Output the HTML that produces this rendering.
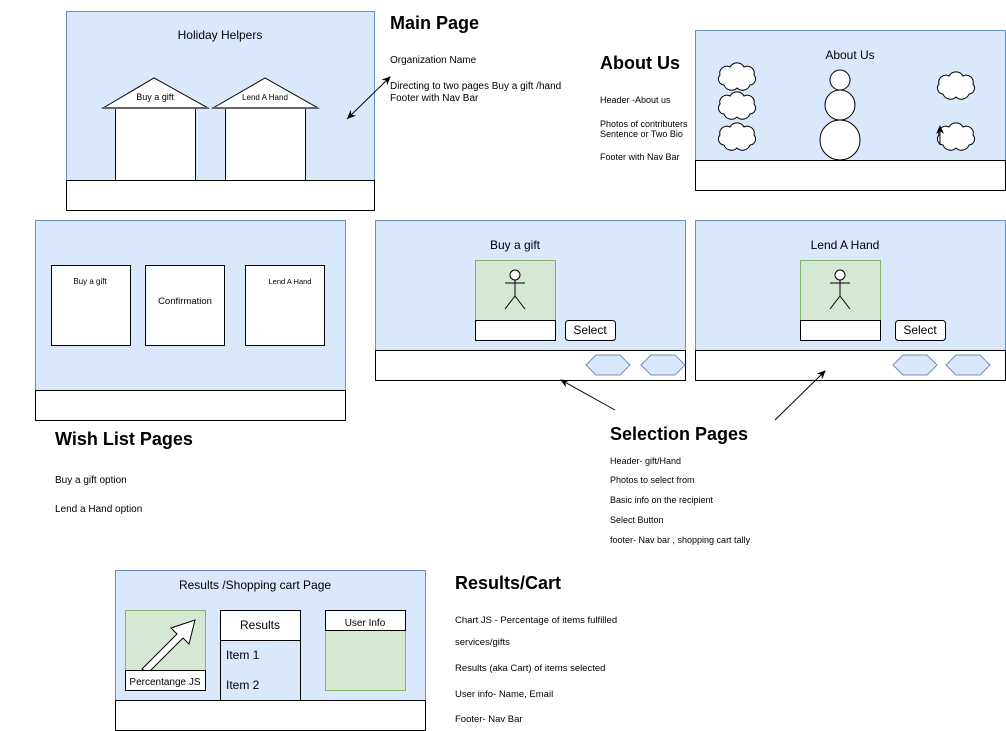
<!DOCTYPE html>
<html><head><meta charset="utf-8"><style>
html,body{margin:0;padding:0;background:#fff;}
svg{display:block;font-family:"Liberation Sans",Arial,sans-serif;}
</style></head><body>
<svg width="1006" height="731" viewBox="0 0 1006 731" xmlns="http://www.w3.org/2000/svg">
<defs>
<marker id="ah" markerWidth="10" markerHeight="10" refX="8" refY="5" orient="auto" markerUnits="userSpaceOnUse"><path d="M0,1 L9,5 L0,9 L3,5 z" fill="#000"/></marker>
<marker id="ahs" markerWidth="10" markerHeight="10" refX="1" refY="5" orient="auto" markerUnits="userSpaceOnUse"><path d="M10,1 L1,5 L10,9 L7,5 z" fill="#000"/></marker>
<g id="cloud"><path d="M-12,8 a6,6 0 0 1 -4,-10 a7,7 0 0 1 10,-8 a8,8 0 0 1 14,0 a7,7 0 0 1 10,8 a6,6 0 0 1 -4,10 a8,8 0 0 1 -13,3 a8,8 0 0 1 -13,-3 z" fill="#fff" stroke="#000" stroke-width="1"/></g>
<g id="stick" stroke="#000" stroke-width="1" fill="none"><circle cx="0" cy="-17" r="5" fill="#fff"/><line x1="0" y1="-12" x2="0" y2="4"/><line x1="-10" y1="-9" x2="10" y2="-9"/><line x1="0" y1="4" x2="-10" y2="17"/><line x1="0" y1="4" x2="10" y2="17"/></g>
<g id="hex"><polygon points="-22,0 -12,-10 12,-10 22,0 12,10 -12,10" fill="#dae8fc" stroke="#6c8ebf"/></g>
</defs>

<!-- Main page -->
<rect x="66.5" y="11.5" width="308" height="169" fill="#dae8fc" stroke="#6c8ebf"/>
<rect x="66.5" y="180.5" width="308" height="30" fill="#fff" stroke="#000"/>
<text x="220" y="39" font-size="12" text-anchor="middle">Holiday Helpers</text>
<rect x="115.5" y="108.5" width="80" height="72" fill="#fff" stroke="#000"/>
<polygon points="103,108 154,78 208,108" fill="#fff" stroke="#000"/>
<line x1="102" y1="108" x2="208" y2="108" stroke="#666" stroke-width="2"/>
<text x="155" y="100" font-size="9" text-anchor="middle">Buy a gift</text>
<rect x="225.5" y="108.5" width="80" height="72" fill="#fff" stroke="#000"/>
<polygon points="213,108 265,78 318,108" fill="#fff" stroke="#000"/>
<line x1="212" y1="108" x2="318" y2="108" stroke="#666" stroke-width="2"/>
<text x="265" y="100" font-size="8" text-anchor="middle">Lend A Hand</text>
<line x1="347" y1="119" x2="390" y2="77" stroke="#000" marker-end="url(#ah)" marker-start="url(#ahs)"/>

<text x="390" y="29" font-size="18" font-weight="bold">Main Page</text>
<text x="390" y="63" font-size="10">Organization Name</text>
<text x="390" y="89" font-size="10">Directing to two pages Buy a gift /hand</text>
<text x="390" y="101" font-size="10">Footer with Nav Bar</text>

<!-- About -->
<text x="600" y="69" font-size="18" font-weight="bold">About Us</text>
<text x="600" y="103" font-size="9">Header -About us</text>
<text x="600" y="127" font-size="9">Photos of contributers</text>
<text x="600" y="137" font-size="9">Sentence or Two Bio</text>
<text x="600" y="160" font-size="9">Footer with Nav Bar</text>
<rect x="695.5" y="30.5" width="310" height="130" fill="#dae8fc" stroke="#6c8ebf"/>
<rect x="695.5" y="160.5" width="310" height="30" fill="#fff" stroke="#000"/>
<text x="850" y="59" font-size="12" text-anchor="middle">About Us</text>
<use href="#cloud" x="736" y="77"/>
<use href="#cloud" x="736" y="106"/>
<use href="#cloud" x="736" y="137"/>
<use href="#cloud" x="955" y="86"/>
<use href="#cloud" x="955" y="137"/>
<line x1="940" y1="145" x2="940" y2="126" stroke="#000" marker-end="url(#ah)"/>
<circle cx="840" cy="140" r="20" fill="#fff" stroke="#000"/>
<circle cx="840" cy="105" r="15" fill="#fff" stroke="#000"/>
<circle cx="840" cy="80" r="10" fill="#fff" stroke="#000"/>

<!-- Wish list -->
<rect x="35.5" y="220.5" width="310" height="170" fill="#dae8fc" stroke="#6c8ebf"/>
<rect x="35.5" y="390.5" width="310" height="30" fill="#fff" stroke="#000"/>
<rect x="51.5" y="265.5" width="79" height="80" fill="#fff" stroke="#000"/>
<text x="90" y="284" font-size="8" text-anchor="middle">Buy a gift</text>
<rect x="145.5" y="265.5" width="79" height="80" fill="#fff" stroke="#000"/>
<text x="185" y="304" font-size="9.5" text-anchor="middle">Confirmation</text>
<rect x="245.5" y="265.5" width="79" height="80" fill="#fff" stroke="#000"/>
<text x="290" y="284" font-size="7.5" text-anchor="middle">Lend A Hand</text>
<text x="55" y="445" font-size="18" font-weight="bold">Wish List Pages</text>
<text x="55" y="483" font-size="10">Buy a gift option</text>
<text x="55" y="512" font-size="10">Lend a Hand option</text>

<!-- Buy a gift -->
<rect x="375.5" y="220.5" width="310" height="130" fill="#dae8fc" stroke="#6c8ebf"/>
<rect x="375.5" y="350.5" width="310" height="30" fill="#fff" stroke="#000"/>
<text x="515" y="249" font-size="12" text-anchor="middle">Buy a gift</text>
<rect x="475.5" y="260.5" width="80" height="60" fill="#d5e8d4" stroke="#82b366"/>
<use href="#stick" x="515" y="292"/>
<rect x="475.5" y="320.5" width="80" height="20" fill="#fff" stroke="#000"/>
<rect x="565.5" y="320.5" width="50" height="20" rx="3" fill="#fff" stroke="#000"/>
<text x="590" y="334" font-size="12" text-anchor="middle">Select</text>
<use href="#hex" x="608" y="365"/>
<use href="#hex" x="663" y="365"/>

<!-- Lend a hand -->
<rect x="695.5" y="220.5" width="310" height="130" fill="#dae8fc" stroke="#6c8ebf"/>
<rect x="695.5" y="350.5" width="310" height="30" fill="#fff" stroke="#000"/>
<text x="845" y="249" font-size="12" text-anchor="middle">Lend A Hand</text>
<rect x="800.5" y="260.5" width="80" height="60" fill="#d5e8d4" stroke="#82b366"/>
<use href="#stick" x="840" y="292"/>
<rect x="800.5" y="320.5" width="80" height="20" fill="#fff" stroke="#000"/>
<rect x="895.5" y="320.5" width="50" height="20" rx="3" fill="#fff" stroke="#000"/>
<text x="920" y="334" font-size="12" text-anchor="middle">Select</text>
<use href="#hex" x="915" y="365"/>
<use href="#hex" x="968" y="365"/>

<line x1="615" y1="410" x2="561" y2="380" stroke="#000" marker-end="url(#ah)"/>
<line x1="775" y1="420" x2="825" y2="371" stroke="#000" marker-end="url(#ah)"/>

<text x="610" y="440" font-size="18" font-weight="bold">Selection Pages</text>
<text x="610" y="464" font-size="9">Header- gift/Hand</text>
<text x="610" y="483" font-size="9">Photos to select from</text>
<text x="610" y="503" font-size="9">Basic info on the recipient</text>
<text x="610" y="523" font-size="9">Select Button</text>
<text x="610" y="543" font-size="9">footer- Nav bar , shopping cart tally</text>

<!-- Results -->
<rect x="115.5" y="570.5" width="310" height="130" fill="#dae8fc" stroke="#6c8ebf"/>
<rect x="115.5" y="700.5" width="310" height="30" fill="#fff" stroke="#000"/>
<text x="255" y="589" font-size="12" text-anchor="middle">Results /Shopping cart Page</text>
<rect x="125.5" y="610.5" width="80" height="80" fill="#d5e8d4" stroke="#82b366"/>
<polygon points="142,669 177,634 171,628 195,620 189,644 183,638 148,673" fill="#fff" stroke="#000"/>
<rect x="125.5" y="670.5" width="80" height="20" fill="#fff" stroke="#000"/>
<text x="165" y="685" font-size="10" text-anchor="middle">Percentange JS</text>
<rect x="220.5" y="640.5" width="80" height="60" fill="#dae8fc" stroke="#000"/>
<rect x="220.5" y="610.5" width="80" height="30" fill="#fff" stroke="#000"/>
<text x="260" y="629" font-size="12" text-anchor="middle">Results</text>
<text x="226" y="659" font-size="12">Item 1</text>
<text x="226" y="689" font-size="12">Item 2</text>
<rect x="325.5" y="630.5" width="80" height="60" fill="#d5e8d4" stroke="#82b366"/>
<rect x="325.5" y="610.5" width="80" height="20" fill="#fff" stroke="#000"/>
<text x="365" y="626" font-size="10" text-anchor="middle">User Info</text>

<text x="455" y="589" font-size="18" font-weight="bold">Results/Cart</text>
<text x="455" y="623" font-size="9.5">Chart JS - Percentage of items fulfilled</text>
<text x="455" y="645" font-size="9.5">services/gifts</text>
<text x="455" y="671" font-size="9.5">Results (aka Cart) of items selected</text>
<text x="455" y="697" font-size="9.5">User info- Name, Email</text>
<text x="455" y="722" font-size="9.5">Footer- Nav Bar</text>
</svg>
</body></html>
